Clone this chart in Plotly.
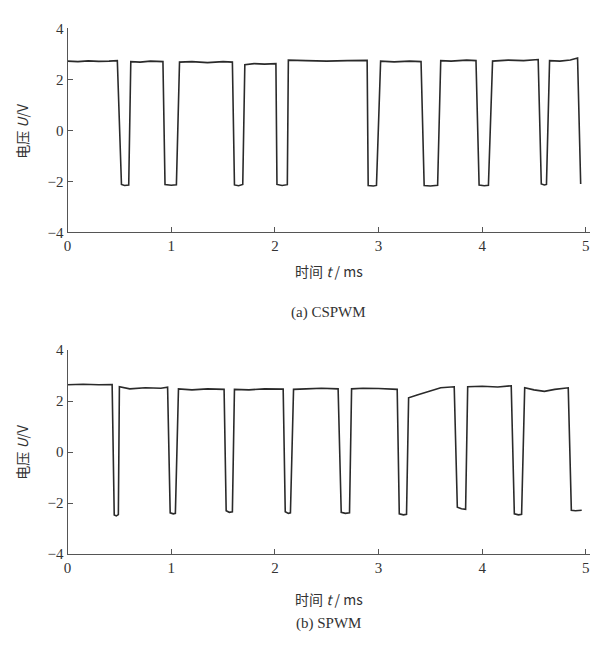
import plotly.graph_objects as go

# (a) CSPWM waveform: time (ms), voltage (V)
t_a = [0.00, 0.10, 0.20, 0.30, 0.40, 0.48, 0.52, 0.55, 0.59, 0.61, 0.70, 0.80, 0.92, 0.94, 1.00, 1.05, 1.08,
       1.20, 1.35, 1.50, 1.59, 1.61, 1.65, 1.69, 1.71, 1.80, 1.90, 2.01, 2.02, 2.07, 2.12, 2.13,
       2.30, 2.50, 2.70, 2.89, 2.90, 2.95, 2.98, 3.02, 3.15, 3.30, 3.41, 3.44, 3.50, 3.57, 3.60,
       3.70, 3.85, 3.94, 3.97, 4.02, 4.06, 4.10, 4.25, 4.40, 4.54, 4.57, 4.60, 4.62, 4.65, 4.75, 4.85, 4.92, 4.95]
v_a = [2.72, 2.70, 2.73, 2.71, 2.72, 2.74, -2.12, -2.16, -2.14, 2.70, 2.68, 2.72, 2.70, -2.12, -2.15, -2.13, 2.68,
       2.70, 2.66, 2.70, 2.68, -2.14, -2.17, -2.12, 2.58, 2.62, 2.60, 2.62, -2.12, -2.16, -2.13, 2.76,
       2.74, 2.72, 2.74, 2.75, -2.16, -2.18, -2.16, 2.72, 2.69, 2.72, 2.70, -2.16, -2.18, -2.15, 2.74,
       2.72, 2.76, 2.74, -2.14, -2.17, -2.15, 2.72, 2.76, 2.74, 2.78, -2.10, -2.14, -2.12, 2.74, 2.72, 2.76, 2.84, -2.10]

# (b) SPWM waveform: time (ms), voltage (V)
t_b = [0.00, 0.15, 0.30, 0.43, 0.45, 0.47, 0.49, 0.50, 0.60, 0.75, 0.90, 0.965, 0.99, 1.02, 1.04, 1.07,
       1.20, 1.35, 1.51, 1.53, 1.56, 1.59, 1.61, 1.75, 1.90, 2.08, 2.10, 2.13, 2.15, 2.18,
       2.30, 2.45, 2.61, 2.64, 2.68, 2.72, 2.74, 2.85, 3.00, 3.18, 3.20, 3.24, 3.27, 3.29,
       3.38, 3.50, 3.60, 3.73, 3.76, 3.80, 3.84, 3.86, 4.00, 4.15, 4.28, 4.31, 4.35, 4.38, 4.41,
       4.50, 4.60, 4.70, 4.83, 4.86, 4.90, 4.96]
v_b = [2.64, 2.66, 2.64, 2.65, -2.46, -2.50, -2.45, 2.56, 2.48, 2.52, 2.50, 2.54, -2.38, -2.42, -2.40, 2.48,
       2.44, 2.48, 2.46, -2.30, -2.36, -2.34, 2.46, 2.44, 2.48, 2.47, -2.34, -2.40, -2.38, 2.46,
       2.48, 2.50, 2.48, -2.36, -2.40, -2.38, 2.48, 2.50, 2.49, 2.46, -2.42, -2.46, -2.44, 2.13,
       2.25, 2.40, 2.52, 2.56, -2.16, -2.22, -2.24, 2.56, 2.58, 2.55, 2.60, -2.42, -2.46, -2.44, 2.52,
       2.44, 2.38, 2.46, 2.52, -2.28, -2.30, -2.28]

x_ticks = [0, 1, 2, 3, 4, 5]
y_ticks = [-4, -2, 0, 2, 4]
y_ticktext = ["\u22124", "\u22122", "0", "2", "4"]

line_col = "#2a2a2a"
axis_col = "#555555"
tick_font = dict(family="Liberation Serif", size=15, color="#333333")

fig = go.Figure()
fig.add_trace(go.Scatter(x=t_a, y=v_a, mode="lines", line=dict(color=line_col, width=1.6),
                         xaxis="x", yaxis="y", showlegend=False))
fig.add_trace(go.Scatter(x=t_b, y=v_b, mode="lines", line=dict(color=line_col, width=1.6),
                         xaxis="x2", yaxis="y2", showlegend=False))

xdom = [64 / 591, 590 / 591]
ydom_a = [1 - 230 / 648, 1 - 21 / 648]
ydom_b = [1 - 560 / 648, 1 - 350.7 / 648]

def xax(anchor):
    return dict(domain=xdom, range=[0, 5.04], anchor=anchor, showline=True, linecolor=axis_col, linewidth=1,
                ticks="inside", ticklen=5, tickcolor=axis_col, tickvals=x_ticks, showgrid=False,
                zeroline=False, tickfont=tick_font, fixedrange=True)

def yax(anchor, dom):
    return dict(domain=dom, range=[-4, 4], anchor=anchor, showline=True, linecolor=axis_col, linewidth=1,
                ticks="inside", ticklen=5, tickcolor=axis_col, tickvals=y_ticks, ticktext=y_ticktext,
                showgrid=False, zeroline=False, tickfont=tick_font, fixedrange=True)

ann = []
for yc_title, yc_x, yc_cap, cap in [(126, 270, 312, "(a) CSPWM"), (455, 606, 631, "(b) SPWM")]:
    ann.append(dict(text="电压 <i>U</i>/V", x=18 / 591, y=1 - yc_title / 648, xref="paper", yref="paper",
                    showarrow=False, textangle=-90, xanchor="center", yanchor="middle",
                    font=dict(family="Noto Sans CJK SC, Liberation Serif", size=14, color="#333333")))
    ann.append(dict(text="时间 <i>t</i> / ms", x=327 / 591, y=1 - yc_x / 648, xref="paper", yref="paper",
                    showarrow=False, xanchor="center", yanchor="middle",
                    font=dict(family="Noto Sans CJK SC, Liberation Serif", size=14, color="#333333")))
    ann.append(dict(text=cap, x=327 / 591, y=1 - yc_cap / 648, xref="paper", yref="paper",
                    showarrow=False, xanchor="center", yanchor="middle",
                    font=dict(family="Liberation Serif", size=15, color="#333333")))

fig.update_layout(
    width=591, height=648, margin=dict(l=0, r=0, t=0, b=0),
    paper_bgcolor="white", plot_bgcolor="white",
    xaxis=xax("y"), yaxis=yax("x", ydom_a),
    xaxis2=xax("y2"), yaxis2=yax("x2", ydom_b),
    annotations=ann,
)

fig.write_html("out.html")
